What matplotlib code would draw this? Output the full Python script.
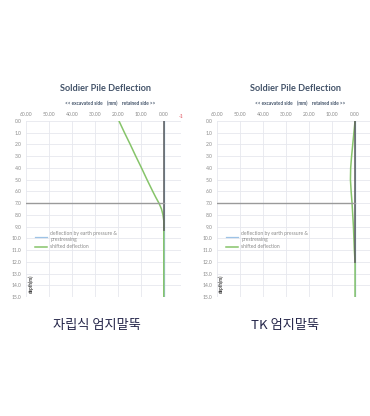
import matplotlib
matplotlib.use("Agg")
import matplotlib.pyplot as plt
from matplotlib.transforms import Bbox, TransformedBbox

# ---- data ----
depth_ticks = list(range(0, 16))
x_ticks = [60, 50, 40, 30, 20, 10, 0]
excavation_depth = 7.0

# self-supporting soldier pile
depth_a = [0, 1, 2, 3, 4, 5, 6, 6.5, 7, 7.5, 8, 8.5, 9, 10, 11, 12, 13, 14, 15]
shifted_a = [19.5, 17.1, 14.6, 12.2, 9.7, 7.3, 4.8, 3.5, 2.1, 1.0, 0.35, 0.0,
             0, 0, 0, 0, 0, 0, 0]
earth_a = [0] * len(depth_a)
pile_a_depth = [0, 9.3]

# TK soldier pile
depth_b = [0, 1, 2, 3, 4, 5, 6, 7, 8, 9, 10, 11, 12, 13, 14, 15]
shifted_b = [0, 0.5, 1.0, 1.5, 1.9, 2.0, 1.7, 1.3, 1.0, 0.7, 0.5, 0.3, 0, 0, 0, 0]
earth_b = [0] * len(depth_b)
pile_b_depth = [0, 12.0]

captions = ["자립식 엄지말뚝", "TK 엄지말뚝"]

LATIN = ["Lato", "DejaVu Sans"]
KOREAN = ["Noto Sans CJK KR", "DejaVu Sans"]

W, H = 370, 416
fig = plt.figure(figsize=(W / 100, H / 100), dpi=100)
fig.patch.set_facecolor("white")


def px_box(x0, x1, y_top, y_bot):
    return [x0 / W, 1 - y_bot / H, (x1 - x0) / W, (y_bot - y_top) / H]


def draw_panel(rect, xlim, depth, shifted, earth, pile_depth):
    ax = fig.add_axes(rect)
    ax.set_xlim(*xlim)
    ax.set_ylim(15, 0)
    for s in ax.spines.values():
        s.set_visible(False)
    ax.xaxis.tick_top()
    ax.set_xticks(x_ticks)
    ax.set_xticklabels([f"{v:.2f}" for v in x_ticks])
    ax.set_yticks(depth_ticks)
    ax.set_yticklabels([f"{v:.1f}" for v in depth_ticks])
    ax.tick_params(length=0, labelsize=3.6, labelcolor="#8a8a8a", pad=3)
    for lab in ax.get_xticklabels() + ax.get_yticklabels():
        lab.set_family(LATIN)
    ax.grid(True, color="#e6e8ee", lw=0.6)
    ax.set_axisbelow(True)

    ax.plot(earth, depth, color="#9dc3e6", lw=0.9, zorder=2,
            label="deflection by earth pressure &\nprestressing")
    ax.plot(shifted, depth, color="#86c46a", lw=1.1, zorder=3,
            label="shifted deflection")
    ax.plot([0, 0], pile_depth, color="#5e5e5e", lw=1.4, alpha=0.8, zorder=4)
    ax.plot([60, 0], [excavation_depth, excavation_depth], color="#9a9a9a",
            lw=1.0, zorder=4)

    leg = ax.legend(loc="upper left", bbox_to_anchor=(0.06, 0.375),
                    frameon=False, prop={"family": LATIN, "size": 3.6},
                    handlelength=2.4, handletextpad=0.6, borderpad=0,
                    borderaxespad=0, labelspacing=0.5)
    for t in leg.get_texts():
        t.set_color("#8a8a8a")

    ax.text(0.03, 0.075, "depth(m)", transform=ax.transAxes, rotation=90,
            ha="center", va="center", fontsize=3.3, fontweight="bold",
            color="#404040", family=LATIN)
    return ax


ax_a = draw_panel(px_box(26, 181, 121, 297), (60, -7.5),
                  depth_a, shifted_a, earth_a, pile_a_depth)
ax_b = draw_panel(px_box(217, 370, 121, 297), (60, -6.5),
                  depth_b, shifted_b, earth_b, pile_b_depth)

# next (negative) tick label of the left chart, cut by the chart area
neg = fig.text(186 / W, 1 - 116 / H, "-10.00", ha="center", va="center",
               fontsize=3.6, color="#e0505a", family=LATIN)
neg.set_clip_box(TransformedBbox(Bbox([[0, 0], [183 / W, 1]]), fig.transFigure))
neg.set_clip_on(True)

for cx in (106, 296):
    fig.text(cx / W, 1 - 88.5 / H, "Soldier Pile Deflection", ha="center",
             va="center", fontsize=6.6, fontweight="bold", color="#44546a",
             family=LATIN)
    fig.text((cx + 4) / W, 1 - 103.5 / H,
             "<< excavated side    (mm)    retained side >>", ha="center",
             va="center", fontsize=3.4, fontweight="bold", color="#44546a",
             family=LATIN)

for cx, cap in zip((97, 285), captions):
    fig.text(cx / W, 1 - 325 / H, cap, ha="center", va="center",
             fontsize=9.5, color="#25264a", family=KOREAN)

fig.savefig("out.png", dpi=100, facecolor="white")
